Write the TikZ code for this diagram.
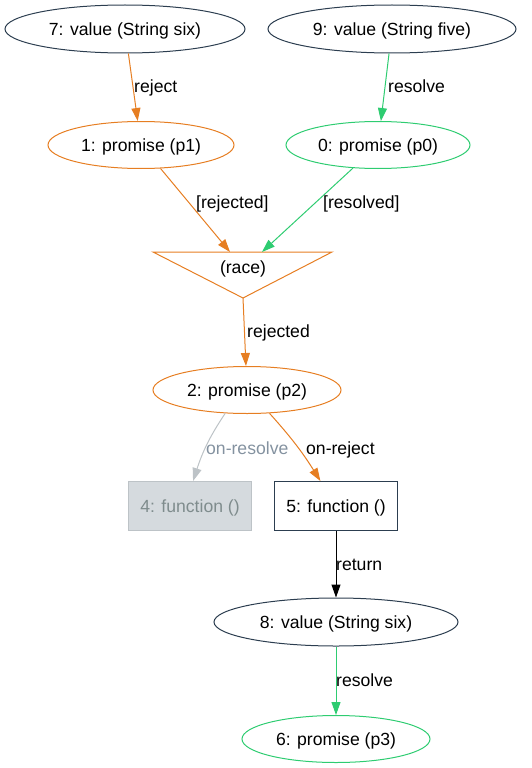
\documentclass[tikz,border=0pt]{standalone}
\usepackage{fontspec}
\setmainfont{Liberation Sans}
\usetikzlibrary{shapes.geometric,arrows.meta}
\definecolor{cor}{HTML}{E67E22}
\definecolor{cgr}{HTML}{2ECC71}
\definecolor{cnv}{HTML}{2C3E50}
\definecolor{cge}{HTML}{BDC3C7}
\definecolor{cgl}{HTML}{8492A0}
\definecolor{cgf}{HTML}{D5DADE}
\definecolor{cgt}{HTML}{7F8C8D}
\tikzset{
  every node/.style={font=\fontsize{17.6}{21}\selectfont, text height=12.6pt, text depth=0pt, inner sep=0pt},
  ell/.style n args={2}{ellipse, draw, line width=1pt, minimum width=#1pt, minimum height=#2pt},
  fbox/.style={rectangle, draw, line width=1pt, minimum width=123pt, minimum height=49pt},
  lbl/.style={anchor=west},
  arr/.style={line width=1pt, -{Triangle[length=13pt,width=9pt]}},
}
\begin{document}
\begin{tikzpicture}[x=1pt,y=-1pt]
\useasboundingbox (0,0) rectangle (531,768);
% nodes
\node[ell={240}{48}, draw=cnv] (v7) at (125,29) {7: value (String six)};
\node[ell={248}{48}, draw=cnv] (v9) at (392,29) {9: value (String five)};
\node[ell={186}{47}, draw=cor] (p1) at (141,145) {1: promise (p1)};
\node[ell={184}{47}, draw=cgr] (p0) at (378,145) {0: promise (p0)};
\node (race) at (243,267) {(race)};
\coordinate (raceL) at (153,252);
\coordinate (raceR) at (332,252);
\coordinate (raceB) at (243,298);
\coordinate (in1) at (230,252);
\coordinate (in2) at (262,252);
\draw[cor, line width=1pt, line join=miter] (raceL) -- (raceR) -- (raceB) -- cycle;
\node[ell={188}{47}, draw=cor] (p2) at (247,390) {2: promise (p2)};
\node[fbox, draw=cge, fill=cgf, text=cgt] (f4) at (190,506) {4: function ()};
\node[fbox, draw=cnv] (f5) at (336,506) {5: function ()};
\node[ell={244}{48}, draw=cnv] (v8) at (336,622) {8: value (String six)};
\node[ell={188}{47}, draw=cgr] (p3) at (336,739) {6: promise (p3)};
% edges
\draw[arr, cor] (v7) -- (p1);
\draw[arr, cgr] (v9) -- (p0);
\draw[arr, cor] (p1) -- (in1);
\draw[arr, cgr] (p0) -- (in2);
\draw[arr, cor] (raceB) -- (p2);
\draw[arr, cge] (p2.-133) to[out=-124, in=72] (f4.83);
\draw[arr, cor] (p2.-46) to[out=-48, in=122] (f5.122);
\draw[arr, black] (f5) -- (v8);
\draw[arr, cgr] (v8) -- (p3);
% labels
\node[lbl] (l1) at (134,86) {reject};
\node[lbl] (l2) at (388,86) {resolve};
\node[lbl] (l3) at (196,202) {[rejected]};
\node[lbl] (l4) at (323,202) {[resolved]};
\node[lbl] (l5) at (247,331) {rejected};
\node[lbl, text=cgl] (l6) at (206,448) {on-resolve};
\node[lbl] (l7) at (306,448) {on-reject};
\node[lbl] (l8) at (336,564) {return};
\node[lbl] (l9) at (336,680) {resolve};
\end{tikzpicture}
\end{document}
